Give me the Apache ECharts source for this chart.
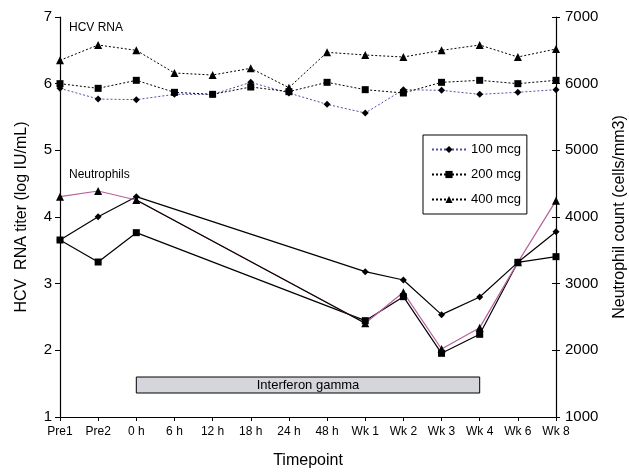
<!DOCTYPE html>
<html><head><meta charset="utf-8">
<script src="https://cdn.jsdelivr.net/npm/echarts@6/dist/echarts.min.js"></script>
<style>html,body{margin:0;padding:0;background:#fff}#c{width:629px;height:474px}</style>
</head><body><div id="c"></div>
<script>
const categories = ["Pre1","Pre2","0 h","6 h","12 h","18 h","24 h","48 h","Wk 1","Wk 2","Wk 3","Wk 4","Wk 6","Wk 8"];
const hcv100 = [5.93,5.77,5.76,5.84,5.84,6.02,5.86,5.69,5.56,5.91,5.90,5.84,5.87,5.91];
const hcv200 = [6.00,5.93,6.05,5.87,5.84,5.95,5.88,6.02,5.91,5.86,6.02,6.05,6.00,6.05];
const hcv400 = [6.35,6.58,6.50,6.16,6.13,6.23,5.94,6.47,6.43,6.40,6.50,6.58,6.40,6.52];
const neut100 = [3655,4005,4305,null,null,null,null,null,3180,3055,2535,2800,3320,3780];
const neut200 = [3655,3325,3765,null,null,null,null,null,2445,2805,1955,2240,3320,3405];
const neut400 = [4305,4390,4255,null,null,null,null,null,2405,2870,2020,2340,3320,4245];
const leftTicks = [1,7,1];       // min, max, interval
const rightTicks = [1000,7000,1000];
const treatmentBar = {label:"Interferon gamma", start:"0 h", end:"Wk 4", low:1.36, high:1.6};

const FONT = "Liberation Sans, Arial, sans-serif";
const dot = [2,2];
const pink = "#b8609e";
const blue = "#4f4fa8";

function hcvSeries(name, data, sym, size, lineColor){
  return {name, type:"line", yAxisIndex:0, data, symbol:sym, symbolSize:size,
    itemStyle:{color:"#000"}, lineStyle:{color:lineColor, width:1, type:dot}, z:3};
}
function neutSeries(name, data, sym, size, lineColor){
  return {name, type:"line", yAxisIndex:1, data, connectNulls:true, symbol:sym, symbolSize:size,
    itemStyle:{color:"#000"}, lineStyle:{color:lineColor, width:1.2}, z:4};
}
// black segment of the 400 mcg neutrophil line between 0 h and Wk 1
const neut400Black = neut400.map((v,i)=> (i===2||i===8)? v : null);

const s100 = hcvSeries("100 mcg", hcv100, "diamond", 7, blue);
s100.markArea = {silent:true,
  itemStyle:{color:"#d4d6db", borderColor:"#000", borderWidth:1},
  label:{show:true, position:"inside", color:"#000", fontSize:13, fontFamily:FONT},
  data:[[{name:treatmentBar.label, xAxis:treatmentBar.start, yAxis:treatmentBar.low},
         {xAxis:treatmentBar.end, yAxis:treatmentBar.high}]]};

const option = {
  animation:false,
  textStyle:{fontFamily:FONT},
  grid:{left:60, right:73, top:17, bottom:57, containLabel:false, outerBoundsMode:"none"},
  legend:{data:["100 mcg","200 mcg","400 mcg"], orient:"vertical", left:423, top:135,
    borderColor:"#000", borderWidth:1, padding:[8,6,8,8], itemGap:12, itemWidth:34, itemHeight:9,
    textStyle:{fontSize:13, color:"#000", fontFamily:FONT}},
  xAxis:{type:"category", data:categories, boundaryGap:false,
    name:"Timepoint", nameLocation:"middle", nameGap:36,
    nameTextStyle:{fontSize:16, color:"#000", fontFamily:FONT},
    axisLine:{lineStyle:{color:"#000", width:1.2}},
    axisTick:{alignWithLabel:true, length:4, lineStyle:{color:"#000"}},
    axisLabel:{color:"#000", fontSize:12, margin:9, interval:0, fontFamily:FONT},
    splitLine:{show:false}},
  yAxis:[
    {type:"value", min:leftTicks[0], max:leftTicks[1], interval:leftTicks[2], position:"left",
     name:"HCV  RNA titer (log IU/mL)", nameLocation:"middle", nameGap:30,
     nameTextStyle:{fontSize:16, color:"#000", fontFamily:FONT},
     axisLine:{show:true, lineStyle:{color:"#000", width:1.2}},
     axisTick:{show:true, length:5, lineStyle:{color:"#000"}},
     axisLabel:{color:"#000", fontSize:15, margin:8, fontFamily:FONT},
     splitLine:{show:false}},
    {type:"value", min:rightTicks[0], max:rightTicks[1], interval:rightTicks[2], position:"right",
     name:"Neutrophil count (cells/mm3)", nameLocation:"middle", nameGap:56,
     nameTextStyle:{fontSize:16, color:"#000", fontFamily:FONT},
     axisLine:{show:true, lineStyle:{color:"#000", width:1.2}},
     axisTick:{show:true, length:4, lineStyle:{color:"#000"}},
     axisLabel:{color:"#000", fontSize:15, margin:9, fontFamily:FONT, formatter:v=>String(v)},
     splitLine:{show:false}},
    {type:"value", min:rightTicks[0], max:rightTicks[1], interval:rightTicks[2], position:"right",
     axisLine:{show:false}, axisLabel:{show:false}, splitLine:{show:false},
     axisTick:{show:true, inside:true, length:4, lineStyle:{color:"#000"}}}
  ],
  graphic:[
    {type:"text", left:69, top:22, style:{text:"HCV RNA", fontSize:12, fill:"#000", fontFamily:FONT}},
    {type:"text", left:69, top:169, style:{text:"Neutrophils", fontSize:12, fill:"#000", fontFamily:FONT}}
  ],
  series:[
    s100,
    hcvSeries("200 mcg", hcv200, "rect", 7, "#000"),
    hcvSeries("400 mcg", hcv400, "triangle", 8, "#000"),
    neutSeries("N100", neut100, "diamond", 7, "#000"),
    neutSeries("N200", neut200, "rect", 7, "#000"),
    neutSeries("N400", neut400, "triangle", 8, pink),
    {name:"N400b", type:"line", yAxisIndex:1, data:neut400Black, connectNulls:true, symbol:"none",
     lineStyle:{color:"#000", width:1.2}, z:6}
  ]
};
echarts.init(document.getElementById("c")).setOption(option);
</script></body></html>
